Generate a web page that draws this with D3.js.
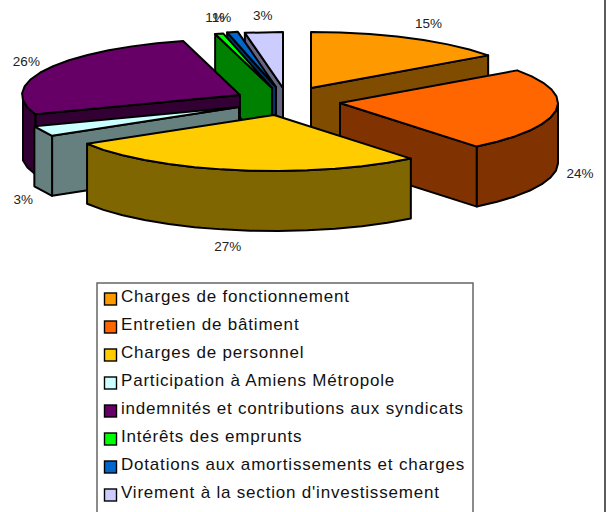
<!DOCTYPE html>
<html><head><meta charset="utf-8">
<script src="https://cdn.jsdelivr.net/npm/d3@7"></script>
<style>html,body{margin:0;padding:0;background:#fff}svg{display:block}text{font-family:"Liberation Sans",Arial,sans-serif}</style>
</head><body><div id="chart"></div>
<script>
const categories = ["Charges de fonctionnement","Entretien de bâtiment","Charges de personnel","Participation à Amiens Métropole","indemnités et contributions aux syndicats","Intérêts des emprunts","Dotations aux amortissements et charges","Virement à la section d'investissement"];
const values = [15.1,24.1,27.2,3.0,26.4,0.6,0.8,2.8];
const topColors = ["#FF9900","#FF6600","#FFCC00","#CCFFFF","#660066","#00FF00","#0066CC","#CCCCFF"];

// layout of the exploded 3-D pie
const W=609,H=512,RX=218,RY=56,DEPTH=60;
const apex=[[311,88],[340,103],[274,115],[239,107],[240,95],[272,88],[276,87],[283,88]];
const labelNudge=[[18,-14],[24,64],[-8,77],[-19,69],[-20,-7],[-4,-15],[-11,-14],[-1,-16]];
const drawOrder=[0,7,6,5,4,3,1,2];

const svg=d3.select("#chart").append("svg").attr("width",W).attr("height",H);
svg.append("rect").attr("width",W).attr("height",H).attr("fill","#fff");
svg.append("line").attr("x1",605).attr("x2",605).attr("y1",0).attr("y2",H).attr("stroke","#333").attr("stroke-width",1.6);

const arcs=d3.pie().sort(null).startAngle(0).endAngle(2*Math.PI)(values);
const shade=c=>{const r=d3.rgb(c);return d3.rgb(r.r/2,r.g/2,r.b/2).formatHex();};
const pt=(i,a)=>[apex[i][0]+RX*Math.sin(a),apex[i][1]-RY*Math.cos(a)];
const down=p=>[p[0],p[1]+DEPTH];
const line=d3.line();
const rim=(i,d)=>{
  const n=Math.max(1,Math.round((d.endAngle-d.startAngle)/0.13));
  return d3.range(n+1).map(k=>pt(i,d.startAngle+(d.endAngle-d.startAngle)*k/n));
};
const face=(pts,fill)=>svg.append("path").attr("d",line(pts)+"Z").attr("fill",fill)
  .attr("stroke","#000").attr("stroke-width",2).attr("stroke-linejoin","round");

drawOrder.forEach(i=>{
  const d=arcs[i],A=apex[i],col=topColors[i],side=shade(col),r=rim(i,d);
  // radial walls that face the viewer
  [[d.startAngle,-1],[d.endAngle,1]].forEach(([a,sgn])=>{
    const P=pt(i,a),ex=P[0]-A[0],ey=P[1]-A[1];
    const ix=-sgn*RX*Math.cos(a),iy=-sgn*RY*Math.sin(a); // toward the slice interior
    let nx=-ey,ny=ex; if(nx*ix+ny*iy>0){nx=-nx;ny=-ny;}
    if(ny>0.01) face([A,P,down(P),down(A)],side);
  });
  // outer wall, front half only
  const front=r.filter((p,k)=>{const a=d.startAngle+(d.endAngle-d.startAngle)*k/(r.length-1);return Math.cos(a)<=0.02;});
  if(front.length>1) face(front.concat(front.map(down).reverse()),side);
  // top
  face([A].concat(r),col);
});

// percentage labels
arcs.forEach((d,i)=>{
  const P=pt(i,(d.startAngle+d.endAngle)/2);
  svg.append("text").attr("x",P[0]+labelNudge[i][0]).attr("y",P[1]+labelNudge[i][1])
    .attr("text-anchor","middle").attr("dominant-baseline","middle")
    .attr("font-size",13.5).attr("fill","#222").text(Math.round(d.value)+"%");
});

// legend
const legendY=d3.scalePoint().domain(categories).range([298,494]);
svg.append("rect").attr("x",97).attr("y",283).attr("width",376).attr("height",240)
  .attr("fill","#fff").attr("stroke","#666").attr("stroke-width",1.5);
categories.forEach((c,i)=>{
  const y=legendY(c);
  svg.append("rect").attr("x",104.5).attr("y",y-5).attr("width",12).attr("height",12)
    .attr("fill",topColors[i]).attr("stroke","#000").attr("stroke-width",1.4);
  svg.append("text").attr("x",121).attr("y",y).attr("dominant-baseline","middle")
    .attr("font-size",17).attr("letter-spacing",0.8).attr("fill","#111").text(c);
});
</script></body></html>
